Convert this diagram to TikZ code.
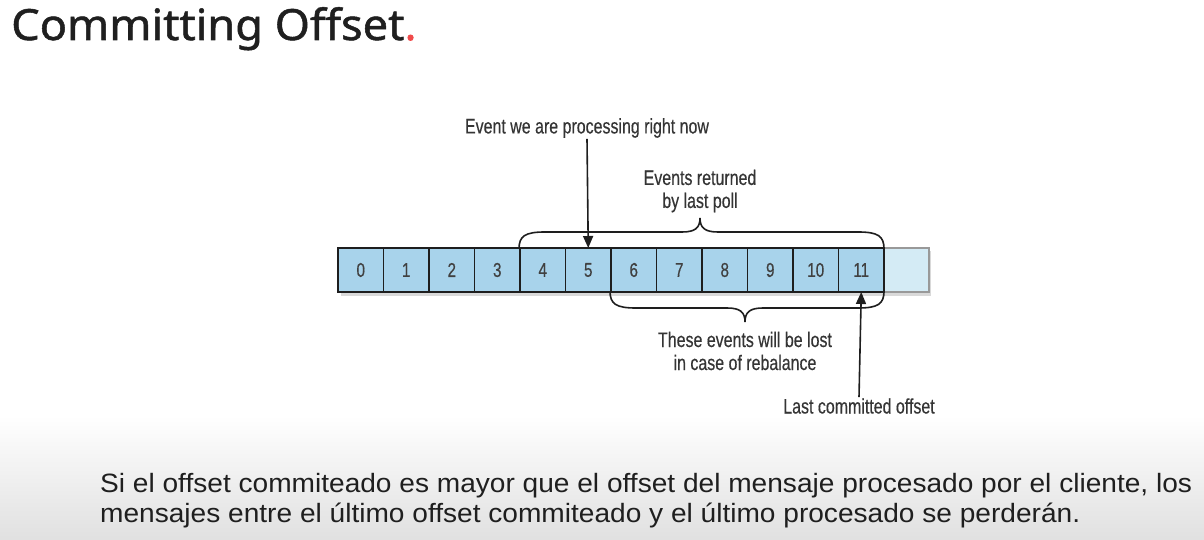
\documentclass[tikz,border=0pt]{standalone}
\usepackage{fontspec}
\setmainfont{Liberation Sans}
\newfontfamily\titlefont[FakeStretch=1.05,FakeBold=1.2]{Noto Sans}
\newfontfamily\condfont[FakeStretch=0.76,FakeBold=0.4]{Liberation Sans}
\newfontfamily\bodyfont[FakeStretch=1.06]{Liberation Sans}
\usetikzlibrary{arrows.meta}
\definecolor{cellblue}{HTML}{A8D3EB}
\definecolor{cellpale}{HTML}{D4EBF5}
\definecolor{reddot}{HTML}{F04A4A}
\definecolor{ink}{HTML}{1E1E1E}
\begin{document}
\begin{tikzpicture}[x=1pt,y=-1pt,
  cell/.style={draw=ink, line width=1.8pt, fill=cellblue, minimum width=45.5pt, minimum height=44pt, inner sep=0pt, outer sep=0pt, font=\condfont\fontsize{20}{20}\selectfont, text=ink!85},
  lbl/.style={font=\condfont\fontsize{21}{23}\selectfont, align=center, text=ink!90, inner sep=1pt},
  arr/.style={-{Triangle[length=12pt,width=10pt]}, line width=1.6pt, draw=ink},
  brace/.style={line width=1.6pt, draw=ink}]
\useasboundingbox (0,0) rectangle (1204,540);
\shade[top color=white, bottom color=black!12] (0,415) rectangle (1204,540);
% title
\node[anchor=base west, font=\titlefont\fontsize{43}{43}\selectfont, text=black!88, inner sep=0pt] (title) at (11,40) {Committing Offset\textcolor{reddot}{.}};
% shadow
\fill[black!25, opacity=0.6] (341,251) rectangle (931,296);
% cells
\foreach \i in {0,...,11} {
  \node[cell] (c\i) at ({338+45.5*\i+22.75},270) {\i};
}
\node[cell, fill=cellpale, draw=black!40] (c12) at (906.25,270) {};
\draw[ink, line width=1.8pt] (c0.north west) rectangle (c11.south east);
% labels
\node[lbl] (now) at (587,128) {Event we are processing right now};
\node[lbl] (poll) at (700,191) {Events returned\\by last poll};
\node[lbl] (lost) at (745,351) {These events will be lost\\in case of rebalance};
\node[lbl] (last) at (859,406) {Last committed offset};
% arrows
\draw[arr] (now.south) -- (c5.north);
\draw[arr] (last.north) -- (c11.south);
% top brace
\draw[brace] (519,249) .. controls (519,236) and (525,232) .. (545,232) -- (682,232) .. controls (695,232) and (700,228) .. (700,218) .. controls (700,228) and (705,232) .. (718,232) -- (858,232) .. controls (878,232) and (884,236) .. (884,249);
% bottom brace
\draw[brace] (610,291) .. controls (610,304) and (616,308) .. (636,308) -- (727,308) .. controls (740,308) and (745,312) .. (745,322) .. controls (745,312) and (750,308) .. (763,308) -- (858,308) .. controls (878,308) and (884,304) .. (884,291);
% body text
\node[anchor=base west, inner sep=0pt, font=\bodyfont\fontsize{26.5}{30}\selectfont, text=black!88] (body1) at (100,492) {Si el offset commiteado es mayor que el offset del mensaje procesado por el cliente, los};
\node[anchor=base west, inner sep=0pt, font=\bodyfont\fontsize{26.5}{30}\selectfont, text=black!88] (body2) at (100,522) {mensajes entre el último offset commiteado y el último procesado se perderán.};
\end{tikzpicture}
\end{document}
